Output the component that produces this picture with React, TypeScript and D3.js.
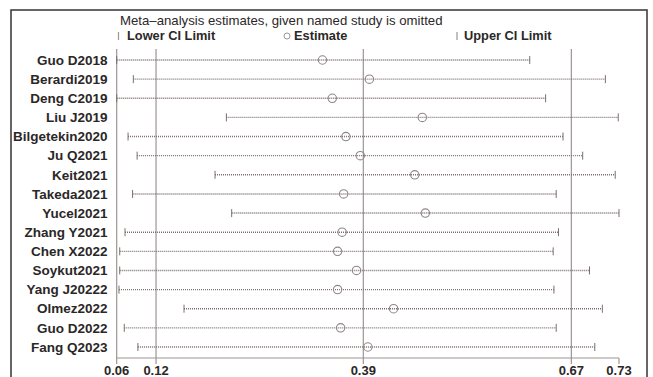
import * as d3 from "d3";
import { useEffect } from "react";

// studies omitted one at a time, top to bottom
const studies = [
  "Guo D2018",
  "Berardi2019",
  "Deng C2019",
  "Liu J2019",
  "Bilgetekin2020",
  "Ju Q2021",
  "Keit2021",
  "Takeda2021",
  "Yucel2021",
  "Zhang Y2021",
  "Chen X2022",
  "Soykut2021",
  "Yang J20222",
  "Olmez2022",
  "Guo D2022",
  "Fang Q2023",
];
const lowerCI = [0.064, 0.086, 0.064, 0.209, 0.079, 0.091, 0.194, 0.085, 0.216, 0.075, 0.068, 0.068, 0.067, 0.153, 0.074, 0.092];
const estimates = [0.336, 0.398, 0.349, 0.468, 0.367, 0.386, 0.458, 0.364, 0.472, 0.362, 0.356, 0.381, 0.356, 0.43, 0.36, 0.396];
const upperCI = [0.61, 0.71, 0.631, 0.727, 0.654, 0.68, 0.723, 0.645, 0.728, 0.648, 0.641, 0.689, 0.642, 0.706, 0.645, 0.696];

// overall: lower limit, estimate, upper limit (reference lines)
const overall = [0.116, 0.39, 0.665];
const tickValues = [0.064, 0.116, 0.39, 0.665, 0.728];
const tickLabels = ["0.06", "0.12", "0.39", "0.67", "0.73"];

const W = 653;
const H = 377;
const FONT = "'Liberation Sans', Arial, Helvetica, sans-serif";
const TEXT = "#2b2727";
const LINE = "#a09494";
const DOT = "#7c6e6e";

export default function App() {
  useEffect(() => {
    document.body.style.margin = "0";
  }, []);

  const x = d3.scaleLinear().domain([0.064, 0.728]).range([116.7, 619]);
  const y = d3.scalePoint().domain(studies).range([60, 347]);
  const axisY = 358;
  const top = 49;

  return (
    <svg
      width={W}
      height={H}
      viewBox={`0 0 ${W} ${H}`}
      style={{ position: "absolute", left: 0, top: 0, background: "#fff" }}
      fontFamily={FONT}
    >
      {/* frame */}
      <rect x={11} y={10} width={636} height={372} fill="none" stroke="#333" strokeWidth={1.5} />

      {/* title */}
      <text x={120} y={20} dy="0.35em" fontSize={13.2} fill={TEXT}>
        Meta–analysis estimates, given named study is omitted
      </text>

      {/* legend */}
      <g fontSize={12.8} fontWeight="bold" fill={TEXT}>
        <line x1={118.5} x2={118.5} y1={32} y2={40} stroke={LINE} strokeWidth={1.2} />
        <text x={127} y={36} dy="0.35em">Lower CI Limit</text>
        <circle cx={287} cy={36} r={3} fill="none" stroke={LINE} strokeWidth={1} />
        <text x={294} y={36} dy="0.35em">Estimate</text>
        <line x1={457} x2={457} y1={32} y2={40} stroke={LINE} strokeWidth={1.2} />
        <text x={464} y={36} dy="0.35em">Upper CI Limit</text>
      </g>

      {/* left axis line */}
      <line x1={x(tickValues[0])} x2={x(tickValues[0])} y1={top} y2={axisY} stroke={LINE} strokeWidth={1.2} />

      {/* overall reference lines */}
      {overall.map((v, i) => (
        <line key={i} x1={x(v)} x2={x(v)} y1={top} y2={axisY} stroke={LINE} strokeWidth={1.2} />
      ))}

      {/* x axis */}
      <line x1={x(tickValues[0])} x2={x(tickValues[tickValues.length - 1])} y1={axisY} y2={axisY} stroke={LINE} strokeWidth={1.2} />
      {tickValues.map((v, i) => (
        <g key={i}>
          <line x1={x(v)} x2={x(v)} y1={axisY} y2={axisY + 6} stroke={LINE} strokeWidth={1.2} />
          <text x={x(v)} y={370.5} dy="0.35em" textAnchor="middle" fontSize={13} fontWeight="bold" fill={TEXT}>
            {tickLabels[i]}
          </text>
        </g>
      ))}

      {/* studies */}
      {studies.map((s, i) => {
        const cy = y(s) as number;
        return (
          <g key={s}>
            <text x={107.5} y={cy} dy="0.35em" textAnchor="end" fontSize={13.5} fontWeight="bold" fill={TEXT}>
              {s}
            </text>
            <line
              x1={x(lowerCI[i])}
              x2={x(upperCI[i])}
              y1={cy}
              y2={cy}
              stroke={DOT}
              strokeWidth={1.4}
              strokeDasharray="1,1"
            />
            <line x1={x(lowerCI[i])} x2={x(lowerCI[i])} y1={cy - 4} y2={cy + 4} stroke={DOT} strokeWidth={1} />
            <line x1={x(upperCI[i])} x2={x(upperCI[i])} y1={cy - 4} y2={cy + 4} stroke={DOT} strokeWidth={1} />
            <circle cx={x(estimates[i])} cy={cy} r={4.2} fill="none" stroke="#8e8686" strokeWidth={1.1} />
          </g>
        );
      })}
    </svg>
  );
}
